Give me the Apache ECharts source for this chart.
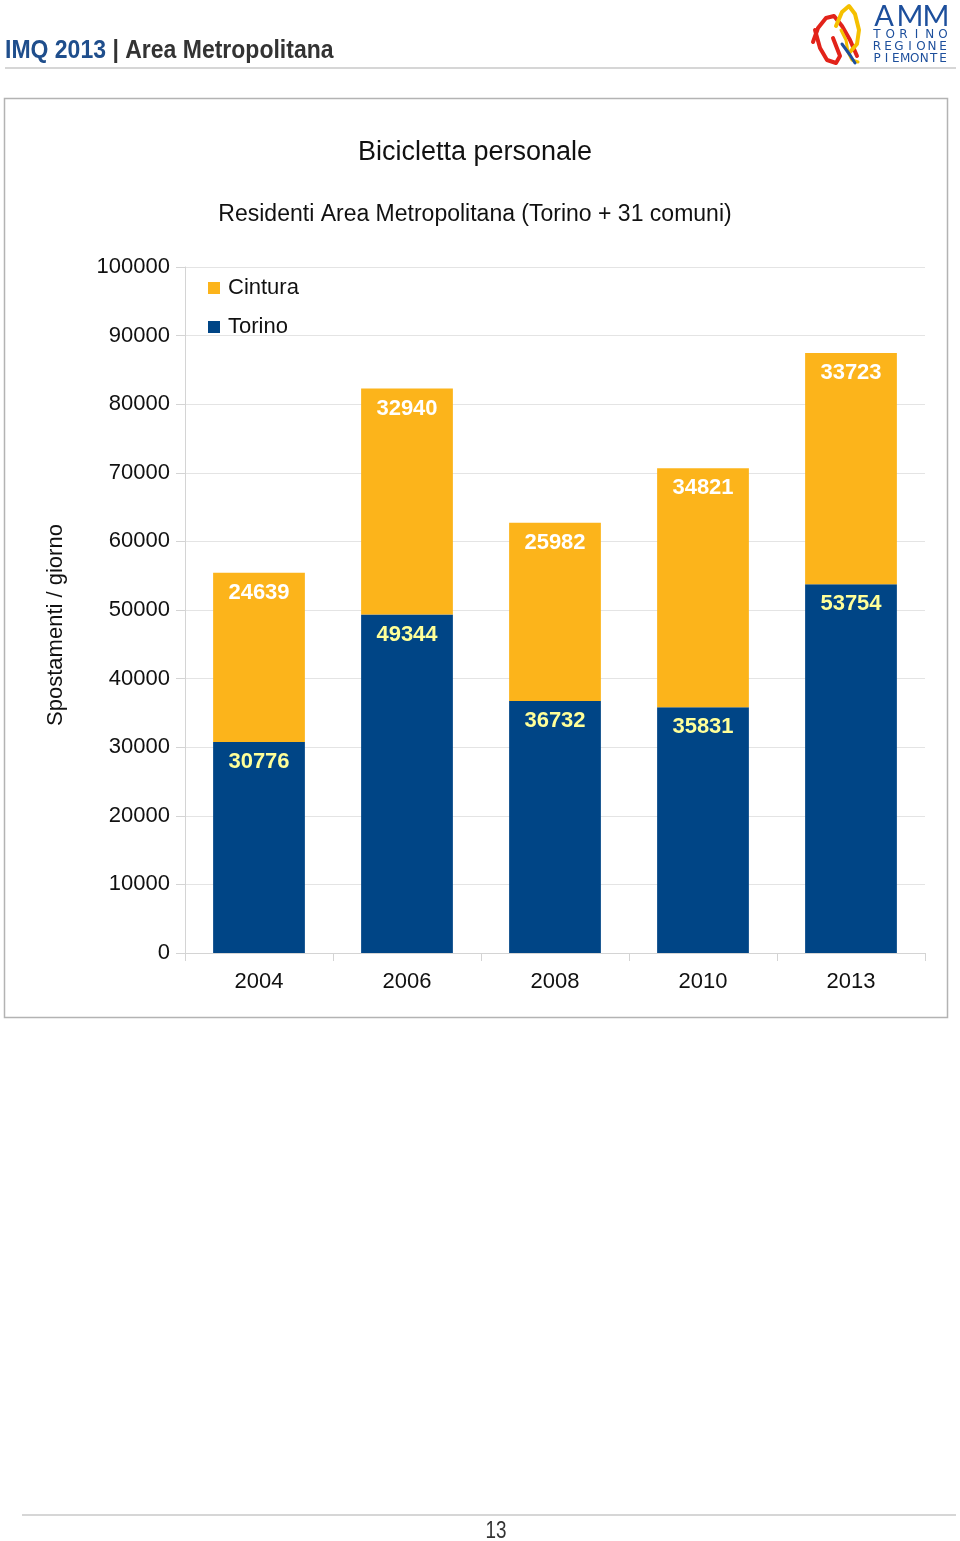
<!DOCTYPE html>
<html>
<head>
<meta charset="utf-8">
<script src="https://cdn.jsdelivr.net/npm/echarts@6/dist/echarts.min.js"></script>
<style>
html,body{margin:0;padding:0;background:#fff;}
#c{width:960px;height:1541px;}
</style>
</head>
<body>
<div id="c"></div>
<script>
const categories = ['2004', '2006', '2008', '2010', '2013'];
const torino = [30776, 49344, 36732, 35831, 53754];
const cintura = [24639, 32940, 25982, 34821, 33723];
const seriesNames = ['Torino', 'Cintura'];
const legendOrder = ['Cintura', 'Torino'];
const yTicks = { min: 0, max: 100000, interval: 10000 };

const FONT = 'Liberation Sans';
const chart = echarts.init(document.getElementById('c'), null, { renderer: 'canvas' });

const logoBlue = '#1d4f9c';

// justified logo words (letters spread between two x positions)
function spreadWord(word, y, size, x0, x1, family) {
  const n = word.length;
  return word.split('').map((ch, i) => ({
    type: 'text', x: x0 + (x1 - x0) * i / (n - 1), y: y,
    style: { text: ch, fontFamily: family || 'DejaVu Sans', fontSize: size, fill: logoBlue, align: 'center', verticalAlign: 'middle' }
  }));
}

chart.setOption({
  animation: false,
  backgroundColor: '#ffffff',
  textStyle: { fontFamily: FONT },
  grid: { left: 185, right: 35, top: 267, bottom: 588, containLabel: false },
  legend: {
    data: legendOrder,
    orient: 'vertical',
    left: 203, top: 272,
    icon: 'rect', itemWidth: 12, itemHeight: 12, itemGap: 17,
    textStyle: { fontSize: 22, color: '#111', fontFamily: FONT, padding: [0, 0, 0, 3] }
  },
  xAxis: {
    type: 'category',
    data: categories,
    axisLine: { show: true, lineStyle: { color: '#d4d4d4', width: 1 } },
    axisTick: { show: true, length: 8, lineStyle: { color: '#d4d4d4' } },
    axisLabel: { fontSize: 22, color: '#111', margin: 18, fontFamily: FONT }
  },
  yAxis: {
    type: 'value',
    min: yTicks.min, max: yTicks.max, interval: yTicks.interval,
    axisLine: { show: true, lineStyle: { color: '#d4d4d4', width: 1 } },
    axisTick: { show: true, length: 9, lineStyle: { color: '#d4d4d4' } },
    axisLabel: { fontSize: 22, color: '#111', margin: 15, fontFamily: FONT, formatter: v => String(v) },
    splitLine: { show: true, lineStyle: { color: '#e4e4e4', width: 1 } }
  },
  series: [
    {
      name: seriesNames[0], type: 'bar', stack: 'tot', data: torino,
      barCategoryGap: '38%',
      itemStyle: { color: '#004586' },
      label: { show: true, position: 'insideTop', distance: 9, color: '#ffff99', fontSize: 22, fontWeight: 'bold', fontFamily: FONT }
    },
    {
      name: seriesNames[1], type: 'bar', stack: 'tot', data: cintura,
      barCategoryGap: '38%',
      itemStyle: { color: '#fcb41b' },
      label: { show: true, position: 'insideTop', distance: 9, color: '#ffffff', fontSize: 22, fontWeight: 'bold', fontFamily: FONT }
    }
  ],
  graphic: [
    // header
    { type: 'text', x: 5, y: 51, scaleX: 0.92, style: {
      text: '{a|IMQ 2013 }{b|| Area Metropolitana}',
      verticalAlign: 'middle',
      rich: {
        a: { fontFamily: FONT, fontWeight: 'bold', fontSize: 25, fill: '#1f4e8c' },
        b: { fontFamily: FONT, fontWeight: 'bold', fontSize: 25, fill: '#333333' }
      }
    } },
    { type: 'line', shape: { x1: 5, y1: 68, x2: 956, y2: 68 }, style: { stroke: '#c8c8c8', lineWidth: 1.5 } },
    // logo
    { type: 'polyline', shape: { points: [[813,42],[818,28],[826,18],[834,16],[842,26],[850,40],[857,56]] }, style: { stroke: '#e2231a', lineWidth: 4, fill: null, lineJoin: 'round', lineCap: 'round' } },
    { type: 'polyline', shape: { points: [[815,30],[820,48],[827,60],[836,63],[840,56],[833,38]] }, style: { stroke: '#e2231a', lineWidth: 4, fill: null, lineJoin: 'round', lineCap: 'round' } },
    { type: 'polyline', shape: { points: [[836,26],[842,12],[849,6],[855,14],[859,30],[857,44],[850,52]] }, style: { stroke: '#f5c000', lineWidth: 4, fill: null, lineJoin: 'round', lineCap: 'round' } },
    { type: 'polyline', shape: { points: [[841,30],[846,40],[848,52],[852,60],[858,62]] }, style: { stroke: '#f5c000', lineWidth: 3, fill: null, lineJoin: 'round', lineCap: 'round' } },
    { type: 'polyline', shape: { points: [[842,44],[850,55],[855,63]] }, style: { stroke: logoBlue, lineWidth: 3, fill: null, lineJoin: 'round', lineCap: 'round' } },
    ...spreadWord('AMM', 17, 29, 884, 936, 'Lato'),
    ...spreadWord('TORINO', 35, 12, 877, 943),
    ...spreadWord('REGIONE', 47, 12, 877, 943),
    ...spreadWord('PIEMONTE', 59, 12, 877, 943),
    // chart box
    { type: 'rect', shape: { x: 4.5, y: 98.5, width: 943, height: 919 }, style: { fill: null, stroke: '#b3b3b3', lineWidth: 1.5 }, z: -1 },
    // titles
    { type: 'text', x: 475, y: 153, style: { text: 'Bicicletta personale', fontFamily: FONT, fontSize: 27, fill: '#111', align: 'center', verticalAlign: 'middle' } },
    { type: 'text', x: 475, y: 215, style: { text: 'Residenti Area Metropolitana (Torino + 31 comuni)', fontFamily: FONT, fontSize: 23, fill: '#111', align: 'center', verticalAlign: 'middle' } },
    { type: 'text', x: 56, y: 625, rotation: Math.PI / 2, style: { text: 'Spostamenti / giorno', fontFamily: FONT, fontSize: 22, fill: '#111', align: 'center', verticalAlign: 'middle' } },
    // footer
    { type: 'line', shape: { x1: 22, y1: 1515, x2: 956, y2: 1515 }, style: { stroke: '#c8c8c8', lineWidth: 1.5 } },
    { type: 'text', x: 496, y: 1532, scaleX: 0.82, style: { text: '13', fontFamily: FONT, fontSize: 23, fill: '#333', align: 'center', verticalAlign: 'middle' } }
  ]
});
</script>
</body>
</html>
